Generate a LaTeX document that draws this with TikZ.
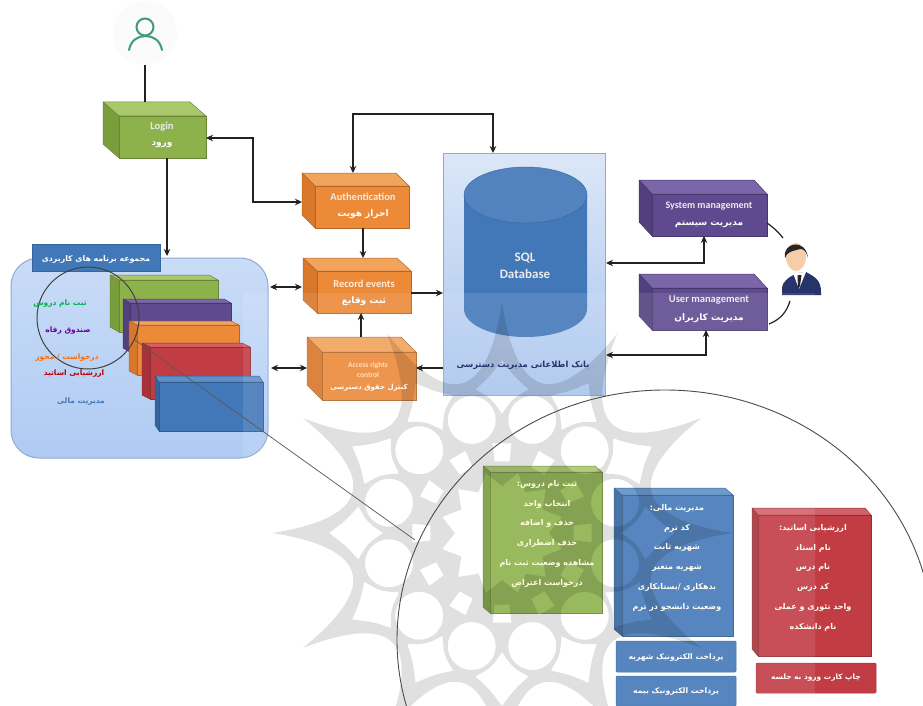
\documentclass[tikz,border=0pt]{standalone}
\usepackage{fontspec}
\usetikzlibrary{arrows.meta,fit,shapes.geometric,calc}
\setmainfont{Carlito}
\newfontfamily\arabicfont[Script=Arabic]{DejaVu Sans}
\TeXXeTstate=1
\newcommand\fa[1]{\beginR#1\endR}
\definecolor{grF}{HTML}{8DB24C}\definecolor{grT}{HTML}{A9C86C}\definecolor{grL}{HTML}{7A9E3C}
\definecolor{orF}{HTML}{EC8A38}\definecolor{orT}{HTML}{F2A35C}\definecolor{orL}{HTML}{D9772A}
\definecolor{puF}{HTML}{5F4A8F}\definecolor{puT}{HTML}{7A66A8}\definecolor{puL}{HTML}{52407E}
\definecolor{blF}{HTML}{4378B8}\definecolor{blT}{HTML}{5F8FC8}\definecolor{blL}{HTML}{35659F}
\definecolor{reF}{HTML}{C23C44}\definecolor{reT}{HTML}{D2626A}\definecolor{reL}{HTML}{A8323A}
\definecolor{line}{HTML}{222222}
\definecolor{panT}{HTML}{C9DCF7}\definecolor{panM}{HTML}{E6EFFC}\definecolor{panB}{HTML}{AFCBF3}
\definecolor{dbT}{HTML}{DCE7F8}\definecolor{dbB}{HTML}{A9C5EE}\definecolor{panE}{HTML}{8FA9CF}
\definecolor{icon}{HTML}{3F9A80}\definecolor{suit}{HTML}{26346B}\definecolor{skin}{HTML}{F6CDA8}
\tikzset{
  conn/.style={draw=line,line width=1.5pt,>={Stealth[length=7pt,width=6.5pt]}},
  face/.style={draw=#1!75!black,line width=.5pt,line join=round},
  lat/.style={font=\bfseries\fontsize{10.5}{12}\selectfont,text=white!92!black,inner sep=0pt},
  per/.style={font=\arabicfont\bfseries\fontsize{9}{11}\selectfont,text=white,inner sep=0pt},
  lst/.style={font=\arabicfont\bfseries\fontsize{8}{19.8}\selectfont,text=white!94!yellow,inner sep=0pt,align=center},
  appl/.style={font=\arabicfont\bfseries\fontsize{7.5}{9}\selectfont,inner sep=0pt},
  flat/.style={rounded corners=1pt,inner sep=0pt,line width=.5pt},
}
% name x1 y1 x2 y2 dx dy colour-prefix
\newcommand\cube[8]{%
  \draw[face=#8F,fill=#8T] (#2-#6,#3-#7) -- (#4-#6,#3-#7) -- (#4,#3) -- (#2,#3) -- cycle;
  \draw[face=#8F,fill=#8L] (#2-#6,#3-#7) -- (#2,#3) -- (#2,#5) -- (#2-#6,#5-#7) -- cycle;
  \node[fit={(#2,#3)(#4,#5)},inner sep=0pt,outer sep=0pt,fill=#8F,draw=#8F!75!black,line width=.5pt] (#1) {};
}
\begin{document}
\begin{tikzpicture}[x=1pt,y=-1pt]
\useasboundingbox (0,0) rectangle (923,706);
\clip (0,0) rectangle (923,706);
\fill[white] (0,0) rectangle (923,706);

% user icon
\node[circle,minimum size=64pt,inner sep=0pt,fill=black!1.5] (usr) at (145,33) {};
\draw[color=icon,line width=2pt] (145,27) circle [radius=8.5];
\draw[color=icon,line width=2pt,line cap=round] (129,50) .. controls (131,40) and (138,36) .. (145.5,36) .. controls (153,36) and (160,40) .. (162,50);

% application panel
\node[fit={(11,258)(268,458)},inner sep=0pt,outer sep=0pt,rounded corners=28pt,draw=panE,line width=1pt,top color=panT,middle color=panM,bottom color=panB] (apps) {};
\node[fit={(32,244)(160,271)},inner sep=0pt,outer sep=0pt,fill=blF,draw=blL] (appstitle) {};
\cube{cg}{119}{280}{218}{332}{9}{5}{gr}
\cube{cp}{130}{303}{231}{352}{7}{4}{pu}
\cube{co}{137}{325}{239}{375}{8}{4}{or}
\cube{cr}{150}{347}{250}{399}{8}{4}{re}
\cube{cb}{159}{382}{263}{431}{4}{6}{bl}

% process boxes
\cube{login}{119}{116}{206}{158}{16}{14}{gr}
\cube{auth}{315}{186}{409}{228}{13}{13}{or}
\cube{rec}{317}{271}{411}{313}{14}{13}{or}
\cube{acc}{322}{352}{416}{400}{15}{15}{or}
\cube{sys}{652}{194}{767}{236}{13}{14}{pu}
\cube{usm}{652}{288}{767}{330}{13}{14}{pu}

% database
\node[fit={(443,153)(605,395)},inner sep=0pt,outer sep=0pt,top color=dbT,bottom color=dbB,draw=panE,line width=.8pt] (db) {};
\path[fill=blF] (464,195) -- (464,309) arc[x radius=61.5,y radius=28,start angle=180,end angle=0] -- (587,195) -- cycle;
\fill[color=blF!92!white,draw=blL,line width=.4pt] (525.5,195) ellipse [x radius=61.5,y radius=28];

% detail boxes
\cube{dg}{490}{472}{602}{613}{7}{6}{gr}
\cube{db2}{622}{495}{733}{636}{8}{7}{bl}
\cube{dr}{758}{515}{871}{656}{6}{7}{re}
\node[fit={(616,641)(736,672)},flat,fill=blF,draw=blL] (pay1) {};
\node[fit={(616,676)(736,706)},flat,fill=blF,draw=blL] (pay2) {};
\node[fit={(756,663)(876,693)},flat,fill=reF,draw=reL] (card) {};

% person
\fill[color=suit] (782,295) -- (782,288) .. controls (783,280) and (790,277) .. (797,273) -- (806,272) .. controls (815,277) and (821,280) .. (821,292) -- (821,295) -- cycle;
\fill[white] (793,273) -- (806,272) -- (799,289) -- cycle;
\fill[color=black!85] (797.5,275) -- (801.5,275) -- (800,286) -- (798,289) -- cycle;
\fill[color=skin] (796,257) ellipse [x radius=10,y radius=14];
\fill[color=black!85] (785,258) .. controls (782,242) and (806,238) .. (808,258) .. controls (806,251) and (804,249) .. (800,249) .. controls (795,251) and (788,250) .. (785,258) -- cycle;

% washed watermark
\fill[white,opacity=.1] (243,293) rectangle (815,706);
\begin{scope}[shift={(502,533)}]
\fill[black,opacity=.12,even odd rule] (0:230)
  foreach \a in {0,30,...,330} { .. controls (\a+6.5:134) and (\a+23.5:134) .. (\a+30:230) } -- cycle
  foreach \a in {0,30,...,330} {
    (\a:119) .. controls (\a+4.5:135) .. (\a+10.5:146) .. controls (\a+4.5:157) .. (\a:173) .. controls (\a-4.5:157) .. (\a-10.5:146) .. controls (\a-4.5:135) .. (\a:119) -- cycle
    (\a+15:117) circle [radius=24]
    (\a-6:72) -- (\a+6:72) -- (\a+6:90) -- (\a-6:90) -- cycle
  }
  (0:47) foreach \a in {0,30,...,330} { -- (\a+15:62) -- (\a+30:47) } -- cycle;
\end{scope}

% lens and magnifier
\node[ellipse,draw=black!70,line width=.9pt,minimum width=536pt,minimum height=500pt,inner sep=0pt] (big) at (665,640) {};
\node[circle,draw=black!75,line width=1pt,minimum size=102pt,inner sep=0pt] (lens) at (88,318) {};
\coordinate (tip) at (415,540);
\draw[color=black!65,line width=.7pt] (lens.-25) -- (tip);

% connectors
\coordinate (logintop) at (145,102);
\coordinate (authtop) at (353,173);
\draw[conn] (usr.south) -- (logintop);
\draw[conn,->] ([xshift=4.5pt]login.south) -- ([xshift=4.5pt,yshift=2pt]login.south |- apps.north);
\draw[conn,<->] ([yshift=-1pt]login.east) -| (253,202) -- (302,202);
\draw[conn,<->] (authtop) -- (353,114) -| ([xshift=-31pt]db.north);
\draw[conn,->] ([xshift=1pt]auth.south) -- ([xshift=-1pt]rec.north |- 363,258);
\draw[conn,->] ([yshift=-1pt]rec.east) -- ([yshift=-1pt]rec.east -| db.west);
\draw[conn,->] (361,337) -- (361,313);
\draw[conn,->] ([yshift=8pt]db.west |- acc.east) -- ([yshift=8pt]acc.east);
\draw[conn,<->] (270,287) -- (302,287);
\draw[conn,<->] (271,368) -- (307,368);
\draw[conn,<->] (606,263) -- (704,263) -- ([xshift=-5.5pt]sys.south);
\draw[conn,<->] (606,355) -- (706,355) -- ([xshift=-3.5pt]usm.south);
\coordinate (pa) at (783,238);
\coordinate (pb) at (790,301);
\draw[conn,line width=1.2pt] ([yshift=13pt]sys.south east) to[bend left=8] (pa);
\draw[conn,line width=1.2pt] ([yshift=6pt,xshift=2pt]usm.south east) to[bend right=25] (pb);

% texts
\node[lat] (t1) at (162,127) {Login};
\node[per] (t2) at (162,145) {\fa{ورود}};
\node[lat] (t3) at (363,197) {Authentication};
\node[per] (t4) at (363,214) {\fa{احراز هویت}};
\node[lat,text=white!85!orange] (t5) at (364,284) {Record events};
\node[per] (t6) at (364,301) {\fa{ثبت وقایع}};
\node[lat,font=\bfseries\fontsize{7.5}{9.5}\selectfont,text=white!75!orange,align=center] (t7) at (368,370) {Access rights\\control};
\node[per,font=\arabicfont\bfseries\fontsize{7}{8}\selectfont] (t8) at (369,388) {\fa{کنترل حقوق دسترسی}};
\node[lat,font=\bfseries\fontsize{13}{17}\selectfont,align=center] (t9) at (525,266) {SQL\\Database};
\node[per,text=suit,font=\arabicfont\bfseries\fontsize{8.4}{10}\selectfont] (t10) at (523,365) {\fa{بانک اطلاعاتی مدیریت دسترسی}};
\node[lat,font=\bfseries\fontsize{10}{12}\selectfont] (t11) at (709,206) {System management};
\node[per] (t12) at (709,224) {\fa{مدیریت سیستم}};
\node[lat] (t13) at (709,300) {User management};
\node[per] (t14) at (709,318) {\fa{مدیریت کاربران}};
\node[per,font=\arabicfont\bfseries\fontsize{7.8}{9}\selectfont] (t15) at (96,259) {\fa{مجموعه برنامه های کاربردی}};
\node[appl,text=teal!60!green] (a1) at (60,304) {\fa{ثبت نام دروس}};
\node[appl,text=violet!85!blue] (a2) at (68,331) {\fa{صندوق رفاه}};
\node[appl,text=orange!85!red] (a3) at (67,358) {\fa{درخواست / مجوز}};
\node[appl,text=red!75!black] (a4) at (74,374) {\fa{ارزشیابی اساتید}};
\node[appl,text=blF] (a5) at (81,402) {\fa{مدیریت مالی}};
\node[lst,text=white!88!yellow,anchor=north] (l1) at (547,480) {\fa{ثبت نام دروس:}\\\fa{انتخاب واحد}\\\fa{حذف و اضافه}\\\fa{حذف اضطراری}\\\fa{مشاهده وضعیت ثبت نام}\\\fa{درخواست اعتراض}};
\node[lst,anchor=north] (l2) at (677,504) {\fa{مدیریت مالی:}\\\fa{کد ترم}\\\fa{شهریه ثابت}\\\fa{شهریه متغیر}\\\fa{بدهکاری /بستانکاری}\\\fa{وضعیت دانشجو در ترم}};
\node[lst,anchor=north] (l3) at (813,524) {\fa{ارزشیابی اساتید:}\\\fa{نام استاد}\\\fa{نام درس}\\\fa{کد درس}\\\fa{واحد تئوری و عملی}\\\fa{نام دانشکده}};
\node[per,font=\arabicfont\bfseries\fontsize{7.7}{9}\selectfont] (t16) at (676,658) {\fa{پرداخت الکترونیک شهریه}};
\node[per,font=\arabicfont\bfseries\fontsize{7.7}{9}\selectfont] (t17) at (676,692) {\fa{پرداخت الکترونیک بیمه}};
\node[per,font=\arabicfont\bfseries\fontsize{7.4}{9}\selectfont] (t18) at (816,678) {\fa{چاپ کارت ورود به جلسه}};
\end{tikzpicture}
\end{document}
